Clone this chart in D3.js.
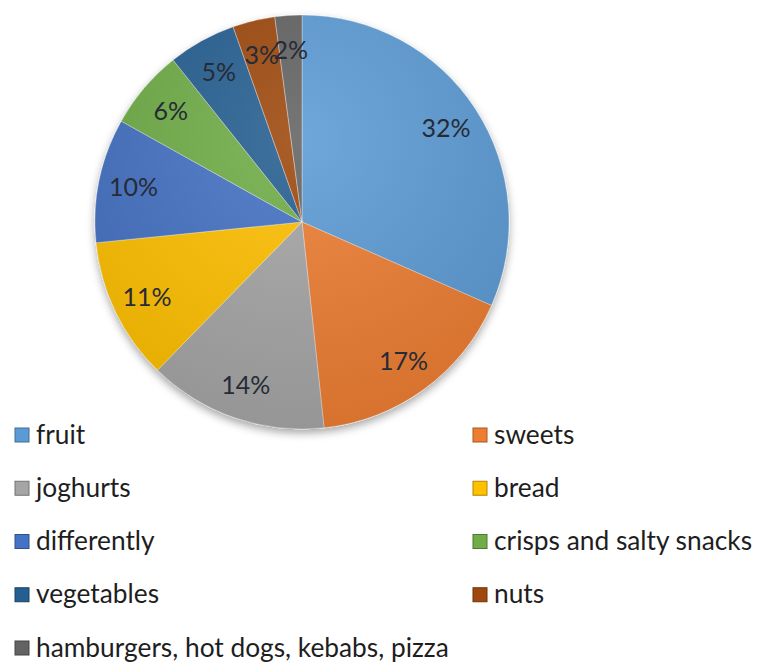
<!DOCTYPE html>
<html>
<head>
<meta charset="utf-8">
<script src="https://cdnjs.cloudflare.com/ajax/libs/d3/7.8.5/d3.min.js"></script>
<style>
  body { margin: 0; background: #fff; }
  svg { display: block; font-family: Lato, "Open Sans", sans-serif; }
</style>
</head>
<body>
<svg id="chart" width="759" height="662"></svg>
<script>
  "use strict";

  /***** Data *****/
  var categories = ["fruit", "sweets", "joghurts", "bread", "differently",
    "crisps and salty snacks", "vegetables", "nuts", "hamburgers, hot dogs, kebabs, pizza"];
  var shares = [31.6, 16.7, 14.0, 11.1, 9.7, 6.2, 5.3, 3.3, 2.1];
  var colors = ["#5b9bd5", "#ed7d31", "#a5a5a5", "#ffc000", "#4472c4",
    "#70ad47", "#255e91", "#9e480e", "#636363"];

  /***** Configuration *****/
  var cx = 302, cy = 222, radius = 207, labelRadius = 172;
  var legendTop = 435, legendStep = 53.25;
  var legendCols = [15, 473];

  var svg = d3.select("#chart");

  var defs = svg.append("defs");
  var shadow = defs.append("filter").attr("id", "shadow")
    .attr("x", "-20%").attr("y", "-20%").attr("width", "140%").attr("height", "140%");
  shadow.append("feDropShadow").attr("dx", 0).attr("dy", 4)
    .attr("stdDeviation", 4).attr("flood-color", "#000").attr("flood-opacity", 0.35);

  // soft light-to-dark shading like the office pie
  var shade = defs.append("radialGradient").attr("id", "shade")
    .attr("cx", "50%").attr("cy", "30%").attr("r", "75%");
  shade.append("stop").attr("offset", "0%").attr("stop-color", "#fff").attr("stop-opacity", 0.12);
  shade.append("stop").attr("offset", "100%").attr("stop-color", "#000").attr("stop-opacity", 0.1);

  var color = d3.scaleOrdinal().domain(categories).range(colors);

  var pie = d3.pie().sort(null).value(function (d) { return d.value; });
  var data = categories.map(function (c, i) { return {name: c, value: shares[i]}; });
  var arcs = pie(data);

  var arc = d3.arc().innerRadius(0).outerRadius(radius);
  var labelArc = d3.arc().innerRadius(labelRadius).outerRadius(labelRadius);

  var g = svg.append("g").attr("transform", "translate(" + cx + "," + cy + ")");

  var slices = g.append("g").attr("filter", "url(#shadow)");
  slices.selectAll("path").data(arcs).enter().append("path")
    .attr("d", arc)
    .attr("fill", function (d) { return color(d.data.name); })
    .attr("stroke", "rgba(255,255,255,0.35)")
    .attr("stroke-width", 1);

  g.append("circle").attr("r", radius).attr("fill", "url(#shade)").attr("pointer-events", "none");

  g.selectAll("text.pct").data(arcs).enter().append("text")
    .attr("class", "pct")
    .attr("transform", function (d) { return "translate(" + labelArc.centroid(d) + ")"; })
    .attr("text-anchor", "middle")
    .attr("dy", "0.36em")
    .attr("font-size", 25)
    .attr("fill", "#262b36")
    .text(function (d) { return Math.round(d.data.value) + "%"; });

  /***** Legend *****/
  var legend = svg.append("g");
  var items = legend.selectAll("g").data(categories).enter().append("g")
    .attr("transform", function (d, i) {
      return "translate(" + legendCols[i % 2] + "," + (legendTop + Math.floor(i / 2) * legendStep) + ")";
    });
  items.append("rect")
    .attr("x", 0).attr("y", -7).attr("width", 14).attr("height", 14)
    .attr("fill", function (d) { return color(d); })
    .attr("stroke", function (d) { return d3.color(color(d)).darker(1); })
    .attr("stroke-width", 1);
  items.append("text")
    .attr("x", 21).attr("dy", "0.33em")
    .attr("font-size", 26.3)
    .attr("fill", "#1e1e1e")
    .text(function (d) { return d; });
</script>
</body>
</html>
